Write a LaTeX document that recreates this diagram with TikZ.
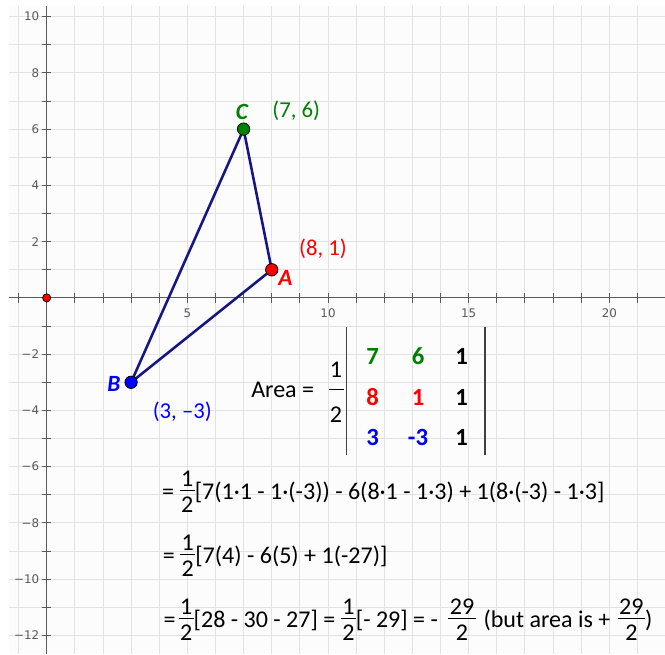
\documentclass[tikz,border=0pt]{standalone}
\usepackage{fontspec}
\setmainfont{Carlito}
\newfontfamily\axisfont{DejaVu Sans}
\definecolor{ggreen}{RGB}{0,128,0}
\definecolor{gred}{RGB}{255,0,0}
\definecolor{gblue}{RGB}{0,0,255}
\definecolor{gnavy}{RGB}{22,22,130}
\definecolor{gridcol}{RGB}{226,226,226}
\definecolor{axiscol}{RGB}{90,90,90}
\definecolor{bgcol}{RGB}{252,252,252}
\newcommand\myfr[2]{\raisebox{1.5pt}{$\vcenter{\hbox{\vbox{\halign{\hfil\kern1.5pt##\kern1.5pt\hfil\cr #1\cr\noalign{\kern3.5pt\hrule height 0.7pt\kern6.5pt}#2\cr}}}}$}}
\tikzset{
  txt/.style={inner sep=0pt, font=\fontsize{24.3}{28}\selectfont},
  ent/.style={inner sep=0pt, font=\fontsize{25}{29}\selectfont\bfseries},
  ptlab/.style={inner sep=0pt, font=\fontsize{23.5}{27}\selectfont\bfseries\itshape},
  coordlab/.style={inner sep=0pt, font=\fontsize{23}{27}\selectfont},
  axlab/.style={inner sep=0pt, text=axiscol, font=\axisfont\fontsize{12}{14}\selectfont},
  pt/.style={circle, draw=black, line width=0.8pt, minimum size=0.44cm, inner sep=0pt},
  tri/.style={gnavy, line width=2.6pt, line join=round},
  detbar/.style={black!75, line width=1.4pt}
}
\begin{document}
\begin{tikzpicture}[x=1cm,y=1cm]
\useasboundingbox (-1.66,-12.66) rectangle (21.98,10.59);
% background and grid
\fill[bgcol] (-1.34,-12.66) rectangle (21.98,10.38);
\foreach \x in {-1,1,2,...,21} \draw[gridcol, line width=0.9pt] (\x,-12.66) -- (\x,10.38);
\foreach \y in {-12,-11,...,-1,1,2,...,10} \draw[gridcol, line width=0.9pt] (-1.34,\y) -- (21.98,\y);
% axes
\draw[axiscol, line width=0.9pt] (-1.34,0) -- (21.98,0);
\draw[axiscol, line width=0.9pt] (0,-12.66) -- (0,10.38);
\foreach \x in {-1,1,2,...,21} \draw[axiscol, line width=0.9pt] (\x,-0.17) -- (\x,0.17);
\foreach \y in {-12,-11,...,-1,1,2,...,10} \draw[axiscol, line width=0.9pt] (-0.17,\y) -- (0.17,\y);
\foreach \x in {5,10,15,20} \node[axlab] (xl\x) at (\x,-0.55) {\x};
\foreach \y in {2,4,6,8,10} \node[axlab, anchor=east] (yl\y) at (-0.26,\y) {\y};
\foreach \y in {2,4,6,8,10,12} \node[axlab, anchor=east] (ylm\y) at (-0.26,-\y) {−\y};
% triangle
\coordinate (pA) at (8,1);
\coordinate (pB) at (3,-3);
\coordinate (pC) at (7,6);
\draw[tri] (pA) -- (pB) -- (pC) -- cycle;
\node[pt, fill=gred, minimum size=0.29cm] (O) at (0,0) {};
\node[pt, fill=gred] (A) at (pA) {};
\node[pt, fill=gblue] (B) at (pB) {};
\node[pt, fill=ggreen] (C) at (pC) {};
% point labels
\node[ptlab, text=ggreen] (lC) at (6.94,6.62) {C};
\node[coordlab, text=ggreen] (cC) at (8.87,6.65) {(7, 6)};
\node[ptlab, text=gred] (lA) at (8.49,0.70) {A};
\node[coordlab, text=gred] (cA) at (9.82,1.74) {(8, 1)};
\node[ptlab, text=gblue] (lB) at (2.39,-3.06) {B};
\node[coordlab, text=gblue] (cB) at (4.82,-4.04) {(3, –3)};
% area determinant
\node[txt] (area) at (8.39,-3.27) {Area =};
\node[txt] (h1) at (10.28,-2.56) {1};
\node[txt] (h2) at (10.28,-4.16) {2};
\draw[black, line width=0.8pt] (10.05,-3.27) -- (10.57,-3.27);
\draw[detbar] (10.66,-1.04) -- (10.66,-5.58);
\draw[detbar] (15.58,-1.04) -- (15.58,-5.58);
\node[ent, text=ggreen] (m11) at (11.59,-2.08) {7};
\node[ent, text=ggreen] (m12) at (13.20,-2.08) {6};
\node[ent] (m13) at (14.75,-2.08) {1};
\node[ent, text=gred] (m21) at (11.59,-3.53) {8};
\node[ent, text=gred] (m22) at (13.20,-3.53) {1};
\node[ent] (m23) at (14.75,-3.53) {1};
\node[ent, text=gblue] (m31) at (11.59,-4.96) {3};
\node[ent, text=gblue] (m32) at (13.20,-4.96) {-3};
\node[ent] (m33) at (14.75,-4.96) {1};
% computation lines
\node[txt, anchor=west] (eq1) at (4.10,-6.90) {= \myfr{1}{2}[7(1·1 - 1·(-3)) - 6(8·1 - 1·3) + 1(8·(-3) - 1·3]};
\node[txt, anchor=west] (eq2) at (4.12,-9.17) {= \myfr{1}{2}[7(4) - 6(5) + 1(-27)]};
\node[txt, anchor=west] (eq3) at (4.15,-11.45) {=\kern3pt\myfr{1}{2}[28 - 30 - 27] = \myfr{1}{2}[- 29] = - \kern5pt\myfr{29}{2}\kern8pt(but area is + \kern2pt\myfr{29}{2})};
\end{tikzpicture}
\end{document}
